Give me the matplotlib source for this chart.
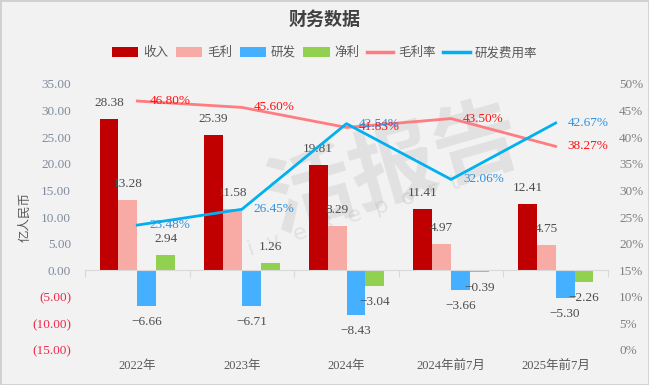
import numpy as np
import matplotlib
matplotlib.use("Agg")
import matplotlib.pyplot as plt
import matplotlib.transforms as mtransforms
from matplotlib.patches import Patch, Rectangle, FancyBboxPatch
from matplotlib.lines import Line2D

plt.rcParams['font.family'] = ['Liberation Serif', 'Noto Sans CJK SC', 'DejaVu Sans']
plt.rcParams['axes.unicode_minus'] = True

# data
categories = ["2022年", "2023年", "2024年", "2024年前7月", "2025年前7月"]
revenue = [28.38, 25.39, 19.81, 11.41, 12.41]
gross_profit = [13.28, 11.58, 8.29, 4.97, 4.75]
rnd = [-6.66, -6.71, -8.43, -3.66, -5.30]
net_profit = [2.94, 1.26, -3.04, -0.39, -2.26]
gross_margin = [46.80, 45.60, 41.83, 43.50, 38.27]
rnd_rate = [23.48, 26.45, 42.54, 32.06, 42.67]

bar_names = ["收入", "毛利", "研发", "净利"]
bar_colors = ["#c00000", "#f8aba4", "#45b0ff", "#92d050"]
line_names = ["毛利率", "研发费用率"]
line_colors = ["#ff7c80", "#00b0f0"]
label_colors = ["#ff1010", "#2e90dc"]

bg = "#f2f2f2"
fig = plt.figure(figsize=(6.49, 3.85), dpi=100)
fig.patch.set_facecolor(bg)
ax = fig.add_axes([85 / 649, 1 - 350 / 385, (608 - 85) / 649, (350 - 84) / 385])
ax.set_facecolor(bg)

x = np.arange(len(categories))
offsets = [-0.27, -0.09, 0.09, 0.27]
width = 0.18
series = [revenue, gross_profit, rnd, net_profit]

# faint watermark (logo outline + text)
logo = FancyBboxPatch((160 / 649, 1 - 275 / 385), 85 / 649, 85 / 385,
                      boxstyle="round,pad=0.005,rounding_size=0.02",
                      transform=fig.transFigure, fill=False, edgecolor="#e05050",
                      alpha=0.10, lw=9, zorder=0)
rot = mtransforms.Affine2D().rotate_deg_around(205, 1 - 0, 0)
fig.add_artist(logo)
ax.text(2.45, 19, "活报告", fontsize=62, color="#000000", alpha=0.07, rotation=16,
        ha="center", va="center", family=["Noto Sans CJK SC"], fontweight="bold", zorder=0)
ax.text(1.95, 9.5, "L  i  v  e  R  e  p  o  r  t", fontsize=16, color="#000000", alpha=0.07,
        rotation=18, ha="center", va="center", family=["DejaVu Sans"], zorder=0)

for vals, off, col in zip(series, offsets, bar_colors):
    ax.bar(x + off, vals, width=width, color=col, zorder=2)
    for xi, v in zip(x, vals):
        txt = f"{v:.2f}" if v >= 0 else "\u2212" + f"{abs(v):.2f}"
        dy = 16 if v >= 0 else -16
        ax.annotate(txt, (xi + off, v), xytext=(0, dy), textcoords="offset pixels",
                    ha="center", va="center", fontsize=9.5, color="#4d4d4d", zorder=5)

ax.set_xlim(-0.5, len(categories) - 0.5)
ax.set_ylim(-15, 35)
yt = list(range(-15, 40, 5))
ax.set_yticks(yt)
ax.set_yticklabels([f"{v:.2f}" if v >= 0 else f"({abs(v):.2f})" for v in yt])
for lab, v in zip(ax.get_yticklabels(), yt):
    lab.set_color("#7f8c9d" if v >= 0 else "#f0284a")
    lab.set_fontsize(9.5)
ax.tick_params(axis="y", length=0, pad=10)

for s in ["left", "right", "top"]:
    ax.spines[s].set_visible(False)
ax.spines["bottom"].set_position(("data", 0))
ax.spines["bottom"].set_color("#d9d9d9")
ax.set_xticks(np.arange(-0.5, len(categories), 1))
ax.set_xticklabels([])
ax.tick_params(axis="x", length=5, color="#d9d9d9", direction="out")

trans = mtransforms.blended_transform_factory(ax.transData, ax.transAxes)
for xi, c in zip(x, categories):
    ax.text(xi, -0.06, c, transform=trans, ha="center", va="center", fontsize=9, color="#595959")

ax2 = ax.twinx()
ax2.set_ylim(0, 50)
rt = list(range(0, 55, 5))
ax2.set_yticks(rt)
ax2.set_yticklabels([f"{v}%" for v in rt], fontsize=9.5, color="#808080")
ax2.tick_params(axis="y", length=0, pad=8)
for s in ax2.spines.values():
    s.set_visible(False)

for vals, col, lc in zip([gross_margin, rnd_rate], line_colors, label_colors):
    ax2.plot(x, vals, color=col, lw=2, zorder=4)
    for xi, v in zip(x, vals):
        ax2.annotate(f"{v:.2f}%", (xi, v), xytext=(12, 0), textcoords="offset pixels",
                     ha="left", va="center", fontsize=9.5, color=lc, zorder=6)

fig.text(0.5, 1 - 20 / 385, "财务数据", ha="center", va="center", fontsize=13,
         fontweight="bold", color="#404040")
fig.text(25 / 649, 1 - 217 / 385, "亿人民币", rotation=90, ha="center", va="center",
         fontsize=9, color="#595959")

handles = [Patch(facecolor=c, label=n) for n, c in zip(bar_names, bar_colors)]
handles += [Line2D([0], [0], color=c, lw=2.5, label=n) for n, c in zip(line_names, line_colors)]
fig.legend(handles=handles, loc="center", bbox_to_anchor=(0.5, 1 - 53 / 385), ncol=6,
           frameon=False, fontsize=9, handlelength=2.1, handleheight=0.9,
           handletextpad=0.4, columnspacing=0.6, labelcolor="#595959")

fig.add_artist(Rectangle((0, 0), 1, 1, transform=fig.transFigure, fill=False,
                         edgecolor="#d0d0d0", lw=2))

fig.savefig("out.png", dpi=100, facecolor=bg)
